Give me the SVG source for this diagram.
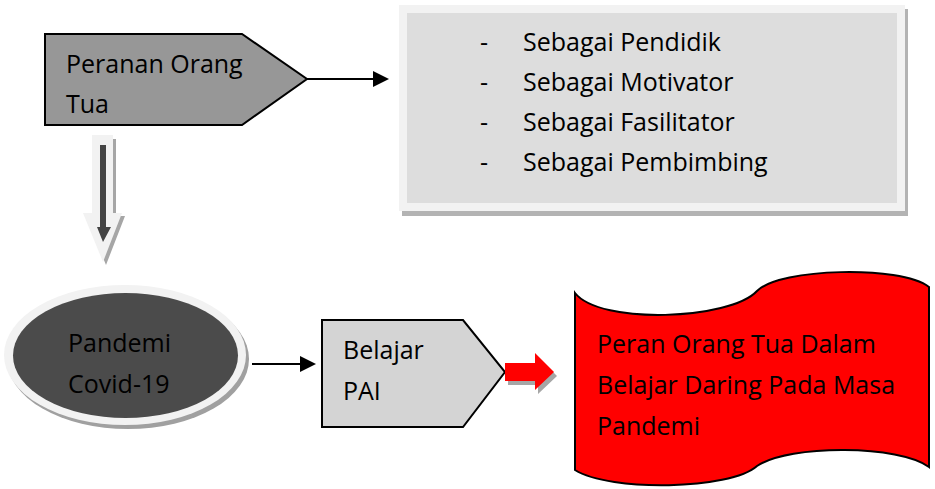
<svg xmlns="http://www.w3.org/2000/svg" width="935" height="489" viewBox="0 0 935 489">
<defs>
<style>
text{font-family:"Open Sans","Noto Sans","Liberation Sans",sans-serif;font-size:25px;fill:#000}
.edge{stroke:#000;stroke-width:2;fill:none}
</style>
<marker id="ah" markerWidth="8" markerHeight="8" refX="7" refY="4" orient="auto" markerUnits="strokeWidth">
<path d="M0,0 L8,4 L0,8 Z" fill="#000"/>
</marker>
</defs>
<rect width="935" height="489" fill="#fff"/>

<g id="peranan">
<polygon points="45,34 242,34 307,79 242,125 45,125" fill="#979797" stroke="#000" stroke-width="2"/>
<text x="66" y="73">Peranan Orang</text>
<text x="66" y="113">Tua</text>
</g>

<g id="peran-list">
<rect x="402" y="9" width="506" height="207" fill="#b3b3b3"/>
<rect x="399" y="5" width="506" height="206" fill="#f2f2f2"/>
<rect x="407" y="13" width="490" height="190" fill="#dddddd"/>
<text x="480" y="51">-</text><text x="523" y="51">Sebagai Pendidik</text>
<text x="480" y="91">-</text><text x="523" y="91">Sebagai Motivator</text>
<text x="480" y="131">-</text><text x="523" y="131">Sebagai Fasilitator</text>
<text x="480" y="171">-</text><text x="523" y="171">Sebagai Pembimbing</text>
</g>

<g id="pandemi">
<ellipse cx="128" cy="359" rx="121" ry="70" fill="#a0a0a0"/>
<ellipse cx="125" cy="355" rx="121" ry="70" fill="#f2f2f2"/>
<ellipse cx="125.5" cy="355.5" rx="112.5" ry="62.5" fill="#4b4b4b"/>
<text x="68" y="352">Pandemi</text>
<text x="68" y="393">Covid-19</text>
</g>

<g id="belajar">
<polygon points="322,320 463,320 505,372 463,427 322,427" fill="#d4d4d4" stroke="#000" stroke-width="2"/>
<text x="343" y="359">Belajar</text>
<text x="343" y="400">PAI</text>
</g>

<g id="hasil">
<path d="M575,293 C600,325 730,320 757,291 C780,268 900,265 929,287 L929,467 C900,445 790,444 757,466 C730,490 610,492 575,470 Z" fill="#ff0000" stroke="#000" stroke-width="2"/>
<text x="597" y="353">Peran Orang Tua Dalam</text>
<text x="597" y="394">Belajar Daring Pada Masa</text>
<text x="597" y="435">Pandemi</text>
</g>

<g id="connectors">
<line x1="307" y1="79" x2="387" y2="79" class="edge" marker-end="url(#ah)"/>
<line x1="252" y1="364" x2="314" y2="364" class="edge" marker-end="url(#ah)"/>
<g id="down-arrow">
<polygon points="95,139 116,139 116,216 125,216 106,265 86,216 95,216" fill="#a6a6a6"/>
<polygon points="92,135 113,135 113,213 122,213 103,262 83,213 92,213" fill="#f2f2f2"/>
<polygon points="100,145 106,145 106,227 111,227 103,242 97,227 100,227" fill="#444"/>
</g>
<g id="red-arrow">
<polygon points="508,367 538,367 538,357 557,376 538,394 538,385 508,385" fill="#a6a6a6"/>
<polygon points="505,363 535,363 535,353 554,372 535,390 535,381 505,381" fill="#ff0000"/>
</g>
</g>
</svg>
